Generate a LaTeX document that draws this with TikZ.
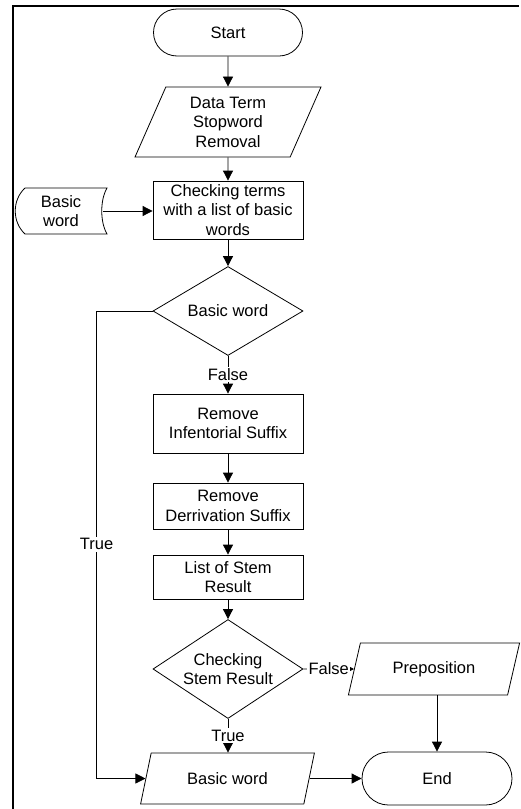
\documentclass[tikz,border=0pt]{standalone}
\usepackage{fontspec}
\setmainfont{Liberation Sans}
\usetikzlibrary{shapes.geometric,arrows.meta,calc}
\begin{document}
\begin{tikzpicture}[x=1pt,y=-1pt,
  font=\fontsize{16.5}{19.5}\selectfont,
  base/.style={draw, line width=0.8pt, align=center, inner sep=2pt},
  proc/.style={base, rectangle, minimum width=150pt},
  term/.style={base, rectangle},
  io/.style={base, trapezium, trapezium left angle=70, trapezium right angle=110, trapezium stretches=true},
  dec/.style={base, diamond, inner sep=0pt},
  arr/.style={-{Triangle[length=10pt,width=10pt]}, line width=0.8pt},
  lbl/.style={fill=white, inner sep=1.5pt}]
\useasboundingbox (0,0) rectangle (520,809);
\draw[line width=2pt] (12.5,809) -- (12.5,6) -- (519,6);

\node[term, minimum width=149pt, minimum height=47pt, rounded corners=23.5pt] (start) at (228,32.5) {Start};
\node[io, minimum width=186pt, minimum height=70pt] (data) at (228,122) {Data Term\\Stopword\\Removal};
\node[proc, minimum height=58pt] (check) at (228,210) {Checking terms\\with a list of basic\\words};
\node[align=center, inner sep=0pt, minimum width=84pt, minimum height=46pt] (base) at (61,211) {Basic\\word};
\draw[line width=0.8pt] (25,188) -- (107,188) .. controls (100,200) and (100,222) .. (107,234) -- (25,234) .. controls (12,222) and (12,200) .. (25,188);
\node[dec, minimum width=150pt, minimum height=89pt, label={center:Basic word}] (d1) at (228,311) {};
\node[proc, minimum height=59pt] (rinf) at (228,423.5) {Remove\\Infentorial Suffix};
\node[proc, minimum height=46pt] (rder) at (228,506) {Remove\\Derrivation Suffix};
\node[proc, minimum height=44pt] (list) at (228,577) {List of Stem\\Result};
\node[dec, minimum width=150pt, minimum height=99pt, label={[align=center]center:Checking\\Stem Result}] (d2) at (228,669) {};
\node[io, minimum width=175pt, minimum height=51pt] (bw) at (227.5,778.5) {Basic word};
\node[io, minimum width=172pt, minimum height=52pt] (prep) at (434,669) {Preposition};
\node[term, minimum width=150pt, minimum height=53pt, rounded corners=26.5pt] (endn) at (437,778.5) {End};

\draw[arr] (start) -- (data);
\draw[arr] (data) -- (check);
\draw[arr] (base.east) -- (base.east -| check.west);
\draw[arr] (check) -- (d1);
\draw[arr] (d1) -- node[lbl]{False} (rinf);
\draw[arr] (rinf) -- (rder);
\draw[arr] (rder) -- (list);
\draw[arr] (list) -- (d2);
\draw[arr] (d2.south) -- node[lbl]{True} (d2.south |- bw.north);
\draw[arr] (d2.east) -- node[lbl]{False} (prep);
\draw[arr] (prep.south -| endn.north) -- (endn.north);
\draw[arr] (bw) -- (endn);
\draw[arr] (d1.west) -- ++(-56,0) coordinate (tl) |- (bw);
\node[lbl] (truelbl) at ($(tl)!0.499!(tl |- bw)$) {True};
\end{tikzpicture}
\end{document}
